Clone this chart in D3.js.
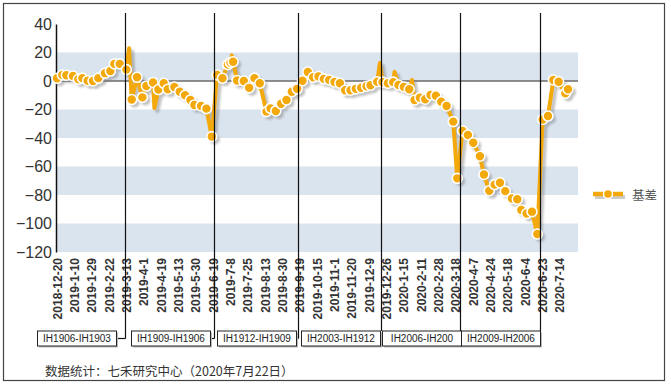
<!DOCTYPE html>
<html>
<head>
<meta charset="utf-8">
<script src="https://cdn.jsdelivr.net/npm/d3@7/dist/d3.min.js"></script>
<style>
  html, body { margin: 0; padding: 0; background: #fff; }
  svg { display: block; }
  .ytick { font: 16px "Liberation Sans", Arial, sans-serif; fill: #333; }
  .xtick { font: bold 12px "Liberation Sans", Arial, sans-serif; fill: #333; }
  .box-label { font: 10px "Liberation Sans", Arial, sans-serif; fill: #222; }
  .legend-label { font: 12.5px "Noto Sans CJK SC", sans-serif; fill: #555; }
  .source { font: 12.5px "Noto Sans CJK SC", sans-serif; fill: #333; }
</style>
</head>
<body>
<div id="chart"></div>
<script>
// ── Data ───────────────────────────────────────────────────────────────────
// x is counted in trading days from 2018-12-20; one label every 13 days

const dateLabels = [
  '2018-12-20', '2019-1-10', '2019-1-29', '2019-2-22', '2019-3-13', '2019-4-1',
  '2019-4-19', '2019-5-13', '2019-5-30', '2019-6-19', '2019-7-8', '2019-7-25',
  '2019-8-13', '2019-8-30', '2019-9-19', '2019-10-15', '2019-11-1', '2019-11-20',
  '2019-12-9', '2019-12-26', '2020-1-15', '2020-2-11', '2020-2-28', '2020-3-18',
  '2020-4-7', '2020-4-24', '2020-5-18', '2020-6-4', '2020-6-23', '2020-7-14',
];
const labelStep = 13;

// points drawn with a marker
const pointDays = [
  0, 4, 7, 12, 16, 19, 23, 27, 31, 36, 40, 43, 47, 52, 56, 60, 64, 67, 72, 76,
  80, 83, 88, 92, 96, 100, 103, 108, 112, 116, 120, 124, 128, 130, 132, 135, 140, 144, 148, 152,
  157, 160, 164, 168, 172, 176, 180, 184, 188, 192, 196, 200, 204, 208, 212, 216, 220, 224, 228, 232,
  235, 240, 244, 248, 252, 256, 260, 264, 268, 272, 276, 280, 284, 288, 292, 297, 300, 304, 308, 312,
  317, 320, 324, 328, 332, 336, 341, 345, 348, 352, 356, 360, 364, 368, 372, 376, 381, 383,
];
const pointValues = [
  1.9, 4.2, 4.0, 3.5, 1.2, 2.0, 0.2, 0.0, 2.0, 5.5, 7.0, 12.0, 12.0, 8.0, -13.0, 2.6, -11.5, -3.5, -1.0, -6.0,
  -1.6, -5.8, -4.2, -7.5, -10.0, -13.3, -16.8, -17.5, -19.4, -39.0, 4.2, 1.9, 11.5, 12.9, 13.5, 0.4, 0.0, -4.8, 2.0, -1.6,
  -21.5, -19.2, -21.0, -16.0, -13.3, -7.5, -5.5, 0.2, 6.3, 2.6, 3.2, 1.5, 0.7, -0.7, -1.6, -6.5, -6.5, -5.5, -4.7, -3.7,
  -3.0, -0.5, -0.8, -1.6, -0.8, -2.8, -4.2, -5.8, -13.3, -11.7, -12.8, -9.8, -10.3, -14.5, -17.5, -28.5, -68.3, -35.0, -37.9, -43.3,
  -52.8, -65.6, -77.0, -72.7, -71.4, -77.3, -82.5, -83.0, -90.5, -93.0, -91.7, -107.4, -27.0, -24.6, 0.7, -0.5, -8.7, -5.8,
];

// single-day spikes on the line without a marker
const spikeDays = [54, 73, 131, 242, 253, 266];
const spikeValues = [23, -19, 18, 12.6, 6.5, 0.7];

// contract roll days and the spread shown in each period
const rollDays = [51, 118, 181, 243, 302, 362];
const rollLabels = [
  'IH1906-IH1903', 'IH1909-IH1906', 'IH1912-IH1909',
  'IH2003-IH1912', 'IH2006-IH200', 'IH2009-IH2006',
];

const yTicks = [40, 20, 0, -20, -40, -60, -80, -100, -120];
const seriesName = '基差';
const sourceText = '数据统计：七禾研究中心（2020年7月22日）';

// ── Layout ─────────────────────────────────────────────────────────────────

const width = 671;
const height = 385;
const plot = { left: 57, right: 578, top: 24, bottom: 252 };
const orange = '#f3a80b';
const bandColor = '#dae4ef';

const svg = d3.select('#chart')
  .append('svg')
  .attr('width', width)
  .attr('height', height);

const defs = svg.append('defs');
defs.append('filter')
  .attr('id', 'soft')
  .attr('x', '-10%').attr('y', '-10%')
  .attr('width', '120%').attr('height', '120%')
  .append('feGaussianBlur')
  .attr('stdDeviation', 1);

const x = d3.scaleLinear()
  .domain([0, 390.5])
  .range([plot.left, plot.right]);

const y = d3.scaleLinear()
  .domain([-120, 40])
  .range([plot.bottom, plot.top]);

// outer frame
svg.append('rect')
  .attr('x', 3.5).attr('y', 3.5)
  .attr('width', 661).attr('height', 377)
  .attr('fill', '#fff')
  .attr('stroke', '#444')
  .attr('stroke-width', 1.2);

// ── Bands ──────────────────────────────────────────────────────────────────

const bands = yTicks.slice(0, -1)
  .map((top, i) => ({ top, bottom: yTicks[i + 1] }))
  .filter((b) => b.top === 20 || b.top === -20 || b.top === -60 || b.top === -100);

svg.append('g')
  .selectAll('rect')
  .data(bands)
  .enter()
  .append('rect')
  .attr('x', plot.left - 1)
  .attr('width', plot.right - plot.left + 1)
  .attr('y', (d) => y(d.top))
  .attr('height', (d) => y(d.bottom) - y(d.top))
  .attr('fill', bandColor);

// zero line
svg.append('line')
  .attr('x1', plot.left).attr('x2', plot.right)
  .attr('y1', y(0)).attr('y2', y(0))
  .attr('stroke', '#6b6b6b')
  .attr('stroke-width', 1.5);

// ── Axes ───────────────────────────────────────────────────────────────────

const yAxis = svg.append('g')
  .attr('transform', `translate(${plot.left - 1},0)`)
  .call(d3.axisLeft(y).tickValues(yTicks).tickSize(0).tickPadding(4));
yAxis.select('.domain').attr('stroke', '#111').attr('stroke-width', 1.5);
yAxis.selectAll('text').attr('class', 'ytick').attr('fill', null);

const tickDays = dateLabels.map((_, i) => i * labelStep);
const xAxis = svg.append('g')
  .attr('transform', `translate(0,${plot.bottom})`)
  .call(d3.axisBottom(x)
    .tickValues(tickDays)
    .tickSize(0)
    .tickFormat((d, i) => dateLabels[i]));
xAxis.select('.domain').remove();
xAxis.selectAll('text')
  .attr('class', 'xtick')
  .attr('fill', null)
  .attr('text-anchor', 'end')
  .attr('dy', null)
  .attr('dominant-baseline', 'central')
  .attr('transform', 'translate(0,6) rotate(-90)')
  .attr('y', 0)
  .attr('x', 0);

// ── Series ─────────────────────────────────────────────────────────────────

const marked = pointDays.map((d, i) => ({ day: d, value: pointValues[i] }));
const spikes = spikeDays.map((d, i) => ({ day: d, value: spikeValues[i] }));
const lineData = marked.concat(spikes).sort((a, b) => a.day - b.day);

const lineGen = d3.line()
  .x((d) => x(d.day))
  .y((d) => y(d.value));

// drop shadow
const shadow = svg.append('g')
  .attr('transform', 'translate(3,3)')
  .attr('filter', 'url(#soft)')
  .attr('opacity', 0.45);
shadow.append('path')
  .attr('d', lineGen(lineData))
  .attr('fill', 'none')
  .attr('stroke', '#777')
  .attr('stroke-width', 4)
  .attr('stroke-linejoin', 'round');
shadow.selectAll('circle')
  .data(marked)
  .enter()
  .append('circle')
  .attr('cx', (d) => x(d.day))
  .attr('cy', (d) => y(d.value))
  .attr('r', 5)
  .attr('fill', '#777');

svg.append('path')
  .attr('d', lineGen(lineData))
  .attr('fill', 'none')
  .attr('stroke', orange)
  .attr('stroke-width', 4)
  .attr('stroke-linejoin', 'round');

svg.append('g')
  .selectAll('circle')
  .data(marked)
  .enter()
  .append('circle')
  .attr('cx', (d) => x(d.day))
  .attr('cy', (d) => y(d.value))
  .attr('r', 5)
  .attr('fill', orange)
  .attr('stroke', '#fff')
  .attr('stroke-width', 1.6);

// ── Roll markers and contract boxes ────────────────────────────────────────

const boxW = 79;
const boxH = 15;
const boxY = 331;
const rollG = svg.append('g');

rollDays.forEach((day, i) => {
  const lx = Math.round(x(day)) + 0.5;
  const prev = i === 0 ? lx - 98 : Math.round(x(rollDays[i - 1])) + 0.5;
  const cx = (prev + lx) / 2;
  const bx = Math.round(cx - boxW / 2) + 0.5;
  const joinY = boxY + boxH / 2;
  const bottom = bx + boxW >= lx - 1 ? boxY : joinY;

  rollG.append('line')
    .attr('x1', lx).attr('x2', lx)
    .attr('y1', 13).attr('y2', bottom)
    .attr('stroke', '#111')
    .attr('stroke-width', 1.2);

  if (bottom === joinY) {
    rollG.append('line')
      .attr('x1', bx + boxW).attr('x2', lx)
      .attr('y1', joinY).attr('y2', joinY)
      .attr('stroke', '#111')
      .attr('stroke-width', 1.2);
  }

  rollG.append('rect')
    .attr('x', bx + 1.5).attr('y', boxY + 1.5)
    .attr('width', boxW).attr('height', boxH)
    .attr('fill', '#bbb');
  rollG.append('rect')
    .attr('x', bx).attr('y', boxY)
    .attr('width', boxW).attr('height', boxH)
    .attr('fill', '#fff')
    .attr('stroke', '#222')
    .attr('stroke-width', 1);
  rollG.append('text')
    .attr('class', 'box-label')
    .attr('x', bx + boxW / 2)
    .attr('y', boxY + boxH / 2)
    .attr('text-anchor', 'middle')
    .attr('dominant-baseline', 'central')
    .text(rollLabels[i]);
});

// ── Legend ─────────────────────────────────────────────────────────────────

const legend = svg.append('g').attr('transform', 'translate(593,194)');
legend.append('line')
  .attr('x1', 2).attr('x2', 32).attr('y1', 3).attr('y2', 3)
  .attr('stroke', '#ccc').attr('stroke-width', 4);
legend.append('line')
  .attr('x1', 0).attr('x2', 30).attr('y1', 0).attr('y2', 0)
  .attr('stroke', orange).attr('stroke-width', 4.5);
legend.append('circle')
  .attr('cx', 15).attr('cy', 0).attr('r', 4.5)
  .attr('fill', orange).attr('stroke', '#fff').attr('stroke-width', 1.5);
legend.append('text')
  .attr('class', 'legend-label')
  .attr('x', 39).attr('y', 0)
  .attr('dominant-baseline', 'central')
  .text(seriesName);

// ── Source note ────────────────────────────────────────────────────────────

svg.append('text')
  .attr('class', 'source')
  .attr('x', 45).attr('y', 376)
  .text(sourceText);
</script>
</body>
</html>
